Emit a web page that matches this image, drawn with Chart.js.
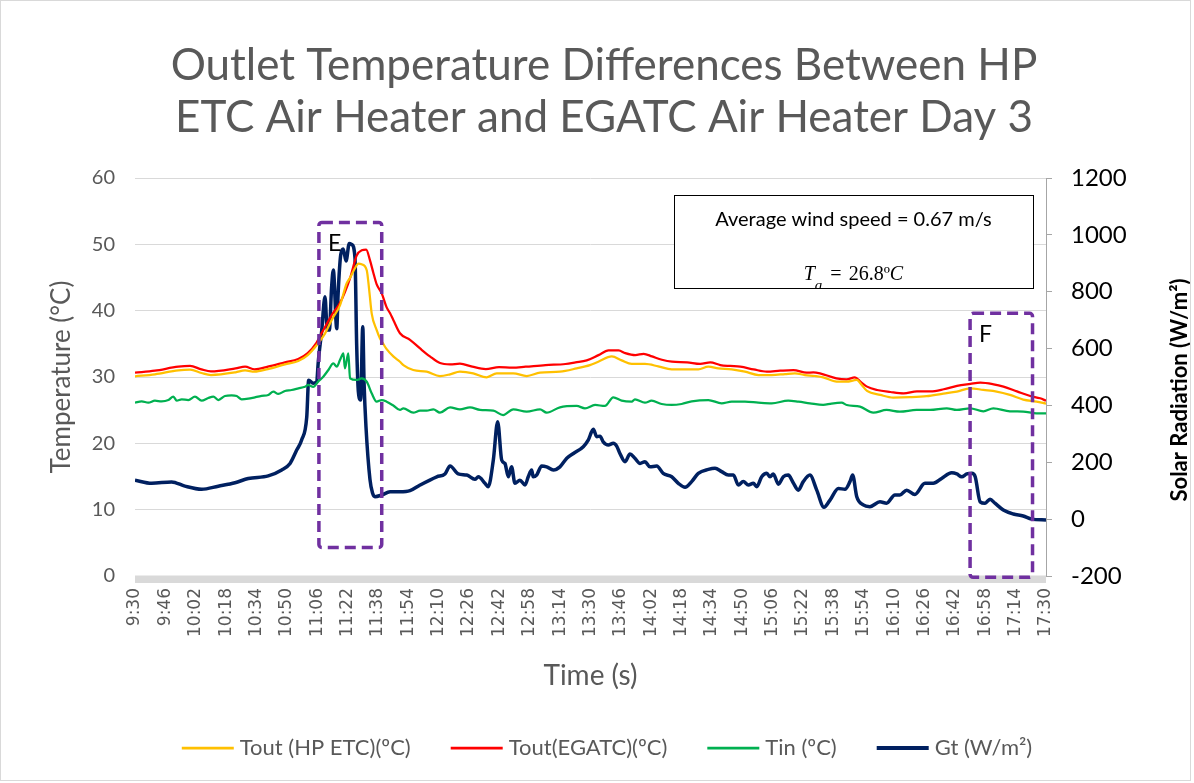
<!DOCTYPE html>
<html><head><meta charset="utf-8">
<script src="https://cdn.jsdelivr.net/npm/chart.js@4.4.1/dist/chart.umd.min.js"></script>
<style>html,body{margin:0;padding:0;background:#fff;}#wrap{width:1194px;height:783px;position:relative;}canvas{display:block;}</style>
</head><body><div id="wrap"><canvas id="c" width="1194" height="783"></canvas></div>
<script>
// ---- tick labels (x axis: minutes after 9:30) ----
const xTickMinutes = [0,16,32,48,64,80,96,112,128,144,160,176,192,208,224,240,256,272,288,304,320,336,352,368,384,400,416,432,448,464,480];
const xTickLabels = ['9:30','9:46','10:02','10:18','10:34','10:50','11:06','11:22','11:38','11:54','12:10','12:26','12:42','12:58','13:14','13:30','13:46','14:02','14:18','14:34','14:50','15:06','15:22','15:38','15:54','16:10','16:26','16:42','16:58','17:14','17:30'];
const seriesNames = ['Tout (HP ETC)(ºC)','Tout(EGATC)(ºC)','Tin (ºC)','Gt (W/m²)'];

// ---- Tout (HP ETC) ----
const tYellow = [0,10.5,22.8,29,35,40,53,58,63,70,79,86,91,96,100,104,108,111.5,113.2,115.9,117.7,119.4,122.1,123.4,124.7,127.3,129.1,130.8,132.6,136.1,139.6,141.4,146.6,153.7,160.7,166,171.2,178.2,185.3,190.6,199.3,206.4,213.4,223.9,232.7,239.7,244.1,251.2,256.4,261.7,268.7,275.7,282.8,289.8,296.8,302.1,307.4,314.4,321.4,328.5,335.5,342.5,347.7,353,358.3,362.6,369.7,375,380.3,382.9,385.7,392.7,399.5,408.3,417.1,425.9,433,440,447,454,461,468,475,480];
const yellow = [30.1,30.4,31.0,31.1,30.6,30.3,30.7,31.0,30.8,31.2,31.9,32.4,33.3,34.9,36.5,38.8,40.8,44.1,44.9,46.4,47.1,47.0,46.1,43.1,39.6,37.1,35.8,35.0,34.2,33.1,32.3,31.8,31.05,30.8,30.15,30.4,30.8,30.55,29.95,30.55,30.55,30.15,30.65,30.8,31.3,31.8,32.3,33.1,32.5,31.96,31.96,31.6,31.15,31.15,31.15,31.55,31.3,31.15,30.8,30.3,30.3,30.45,30.55,30.3,30.15,29.95,29.3,29.3,29.55,28.8,27.9,27.3,26.9,26.95,27.1,27.5,27.8,28.3,28.05,27.8,27.3,26.6,26.3,26.0];

// ---- Tout (EGATC) ----
const tRed = [0,10.5,22.8,29,35,40,53,58,63,70,79,86,91,95.7,99.1,104,107.9,113.2,116.8,119.5,121.8,123.9,125.5,127.3,130,132.6,134.4,136.1,139.6,144.9,150.2,155.4,160.7,166,171.2,177.7,184.8,191.8,198.8,205.8,216.3,226.8,232.1,238,244.2,249.5,254.8,258.3,263.6,268,272.4,277.6,282.9,290.9,297.8,303.1,308.4,313.6,318.9,325.9,332.9,339.9,346.9,353.9,357.4,360.9,369.6,374.9,379.3,382.2,385.7,391,398,405,412,419.1,426.1,433.1,440.1,445.4,452.4,457.6,464.7,471.7,476.9,480];
const red = [30.65,30.95,31.55,31.66,31.15,30.85,31.3,31.55,31.15,31.55,32.2,32.7,33.6,35.2,37.0,39.5,41.1,44.8,48.3,49.1,49.2,47.5,45.8,44.0,42.6,40.5,39.6,38.6,36.6,35.6,34.3,33.1,32.1,31.9,32.0,31.55,31.2,31.5,31.4,31.55,31.8,31.96,32.2,32.5,33.3,34.0,34.0,33.6,33.3,33.5,33.1,32.6,32.3,32.2,31.96,32.2,31.8,31.66,31.55,31.15,30.8,30.95,31.05,30.65,30.7,30.55,29.8,29.65,29.95,29.3,28.55,28.04,27.74,27.54,27.84,27.84,28.15,28.65,28.95,29.15,28.9,28.55,27.84,27.14,26.79,26.43];

// ---- Tin ----
const tGreen = [0,3.5,7,10.5,14,17.6,20.2,22,24.6,28.1,31.6,35.1,38.6,41.3,43.9,47.4,50.9,53.6,56.2,59.7,63.2,66.7,70.2,72.9,75.5,79,82.5,86.1,89.6,91.3,93.9,96.5,99.2,101.9,104.5,106.3,108,109.8,110.6,112.4,113.3,116.8,119.4,122.1,124.7,127.3,130,132.6,136.1,139.6,141.4,146.6,150.2,153.7,157.2,160.7,166,171.2,176.5,181.8,188.8,194,199.3,206.4,213.4,216.9,223.9,232.7,237.1,242.4,247.6,252,256.4,261.7,263.4,268.7,272.2,277.5,282.8,288,293.3,302.1,309.1,314.4,321.4,328.4,335.5,344.2,349.5,355.6,362.6,367,372.3,375,382,389,396,403,411.8,418.9,427.7,433,440,447,452.2,461,468,475,480];
const green = [26.13,26.33,26.13,26.43,26.33,26.53,27.04,26.43,26.63,26.53,27.04,26.43,26.84,27.04,26.53,27.14,27.24,27.14,26.63,26.73,26.94,27.14,27.29,27.79,27.44,27.89,28.04,28.29,28.54,28.8,28.5,29.3,30.05,31.06,32.06,31.56,32.56,33.57,31.3,33.57,29.8,29.55,29.8,29.3,27.54,26.28,26.53,26.28,25.7,25.03,25.28,24.62,24.92,24.92,25.13,24.62,25.43,25.13,25.43,25.03,24.92,24.27,25.13,24.77,25.13,24.62,25.43,25.63,25.28,25.78,25.63,26.94,26.43,26.28,26.63,26.13,26.43,25.93,25.78,25.93,26.33,26.53,26.03,26.28,26.28,26.13,26.03,26.43,26.28,26.03,25.78,26.0,26.13,25.78,25.53,24.62,25.03,24.78,25.03,25.03,25.28,25.03,25.28,24.83,25.28,24.83,24.78,24.52,24.52];

// ---- Gt (solar radiation) ----
const tGt = [0,8.8,19.3,26.3,35.1,43.9,52.7,59.7,70.2,77.3,81.7,85.2,87.8,90.5,91.5,93.9,95.7,96.6,98.4,100.1,101.3,102.4,103.6,104.5,106.3,107,108.4,109.7,111.2,112.9,114.2,115.9,116.8,117.7,118.9,120,120.7,121.7,123.8,125.2,126.4,130,134.4,139.6,144.9,150.2,159,163.3,166,170.3,174.8,179.1,180.9,184.4,186.1,188.8,191.1,193.2,194.9,196.7,198.4,200.2,202.8,205.5,207.2,209,209.8,211.6,214.3,216.9,220.4,223.9,227.5,231,236.2,238.8,241.5,243.3,245,246.7,249.4,252,253.8,255.5,258.2,260.8,263.4,266.1,268.7,271.3,274.9,278.3,282.8,286.3,289.8,293.3,296.8,302.1,305.6,309.1,312.6,315.3,317.9,320.5,323.2,325.8,327.6,330.2,332.9,334.6,336.3,339,341.6,344.2,346.8,349.5,352.1,355.6,359.2,363,366.2,370.6,374.1,376.7,378.1,380.3,383.7,387.2,392.5,396,400.4,403,406.6,410.9,416.2,420.6,425,430.3,433,435.6,438.3,440.9,442.7,445.3,447.9,450.5,453.1,457.5,462.8,468,472.4,480];
const gt = [137,126,131,116,105,116,128,143,152,173,196,243,278,360,489,478,483,556,665,782,665,665,817,876,670,790,930,950,908,970,966,920,612,448,419,677,478,325,140,91,79,85,96,96,100,120,149,159,187,159,155,140,149,126,114,208,343,208,196,149,184,126,137,120,149,173,149,155,187,184,173,184,214,231,255,278,316,290,292,272,261,267,257,231,202,229,214,196,202,184,187,161,149,126,112,132,161,175,179,167,155,155,120,132,120,126,114,149,161,149,159,123,149,155,128,102,132,155,102,42,67,108,105,132,155,79,50,44,61,56,85,85,102,87,126,126,143,163,159,149,159,161,149,61,56,70,56,32,18,11,0,-3];

const FONT = 'Lato, "Open Sans", sans-serif';
const GREY = '#595959';
const toXY = (ts, vs) => ts.map((t, i) => ({x: t, y: vs[i]}));

const overlayPlugin = {
  id: 'overlay',
  afterDatasetsDraw(chart) {
    const ctx = chart.ctx, xs = chart.scales.x, ys = chart.scales.y;
    ctx.save();
    // dashed purple highlight boxes
    const boxes = [
      {label: 'E', x0: 96.9, x1: 130.0, y0: 53.3, y1: 4.3},
      {label: 'F', x0: 440.0, x1: 472.9, y0: 39.6, y1: -0.2}
    ];
    ctx.strokeStyle = '#7030A0';
    ctx.lineWidth = 3.5;
    ctx.setLineDash([11, 6]);
    boxes.forEach(b => {
      const l = xs.getPixelForValue(b.x0), r = xs.getPixelForValue(b.x1);
      const t = ys.getPixelForValue(b.y0), bt = ys.getPixelForValue(b.y1);
      ctx.beginPath();
      if (ctx.roundRect) ctx.roundRect(l, t, r - l, bt - t, 3); else ctx.rect(l, t, r - l, bt - t);
      ctx.stroke();
      ctx.fillStyle = '#000';
      ctx.font = '23px ' + FONT;
      ctx.textAlign = 'left';
      ctx.textBaseline = 'middle';
      ctx.fillText(b.label, l + 9, t + 21);
    });
    ctx.setLineDash([]);
    // information text box
    const bl = xs.getPixelForValue(284.0), br = xs.getPixelForValue(473.1);
    const bt = ys.getPixelForValue(57.44), bb = ys.getPixelForValue(43.37);
    ctx.fillStyle = '#fff';
    ctx.fillRect(bl, bt, br - bl, bb - bt);
    ctx.save();
    ctx.beginPath(); ctx.rect(bl, bt, br - bl, bb - bt); ctx.clip();
    const cx = (bl + br) / 2;
    ctx.fillStyle = '#000';
    ctx.textBaseline = 'alphabetic';
    ctx.textAlign = 'center';
    ctx.font = '20px ' + FONT;
    ctx.fillText('Average wind speed = 0.67 m/s', cx, bt + 31);
    // T_a = 26.8ºC
    const base = bb - 8.5;
    const SERIF = '"Liberation Serif", "DejaVu Serif", serif';
    const parts = [
      {t: 'T', f: 'italic 20px ' + SERIF, dy: 0, pad: 0},
      {t: 'a', f: 'italic 15px ' + SERIF, dy: 10, pad: 8},
      {t: '=', f: '20px ' + SERIF, dy: 0, pad: 7},
      {t: '26.8º', f: '20px ' + SERIF, dy: 0, pad: 0},
      {t: 'C', f: 'italic 20px ' + SERIF, dy: 0, pad: 0}
    ];
    let w = 0;
    parts.forEach(p => { ctx.font = p.f; p.w = ctx.measureText(p.t).width + p.pad; w += p.w; });
    let px = cx - w / 2;
    ctx.textAlign = 'left';
    parts.forEach(p => { ctx.font = p.f; ctx.fillText(p.t, px, base + p.dy); px += p.w; });
    ctx.restore();
    ctx.strokeStyle = '#000';
    ctx.lineWidth = 1;
    ctx.strokeRect(Math.round(bl) + 0.5, Math.round(bt) + 0.5, Math.round(br - bl), Math.round(bb - bt));
    ctx.restore();
  },
  beforeDatasetsDraw(chart) {
    const ctx = chart.ctx, a = chart.chartArea;
    ctx.save();
    ctx.fillStyle = '#D9D9D9';
    ctx.fillRect(a.left, a.bottom - 0.5, a.right - a.left, 7.5);
    ctx.restore();
  },
  afterDraw(chart) {
    const ctx = chart.ctx;
    ctx.save();
    // title
    ctx.fillStyle = GREY;
    ctx.textAlign = 'center';
    ctx.textBaseline = 'middle';
    ctx.font = '44px ' + FONT;
    ctx.fillText('Outlet Temperature Differences Between HP', 604, 66);
    ctx.fillText('ETC Air Heater and EGATC Air Heater Day 3', 604, 118);
    // secondary axis title (reads bottom to top)
    ctx.save();
    ctx.translate(1180, 390);
    ctx.rotate(-Math.PI / 2);
    ctx.textAlign = 'center';
    ctx.fillStyle = '#000';
    ctx.font = 'bold 22px ' + FONT;
    ctx.fillText('Solar Radiation (W/m²)', 0, 0);
    ctx.restore();
    // legend
    ctx.font = '22px ' + FONT;
    const items = chart.data.datasets.map(d => ({label: d.label, color: d.borderColor, lw: d.borderWidth}));
    const lineLen = 52, gap = 6, itemGap = 40;
    let total = 0;
    items.forEach((it, i) => { it.w = ctx.measureText(it.label).width; total += lineLen + gap + it.w + (i < items.length - 1 ? itemGap : 0); });
    let x = 607 - total / 2;
    const y = 748;
    ctx.textAlign = 'left';
    items.forEach(it => {
      ctx.strokeStyle = it.color;
      ctx.lineWidth = it.lw + 0.5;
      ctx.beginPath(); ctx.moveTo(x, y); ctx.lineTo(x + lineLen, y); ctx.stroke();
      ctx.fillStyle = GREY;
      ctx.fillText(it.label, x + lineLen + gap, y);
      x += lineLen + gap + it.w + itemGap;
    });
    // outer border
    ctx.strokeStyle = '#D9D9D9';
    ctx.lineWidth = 1;
    ctx.strokeRect(0.5, 0.5, 1190, 780);
    ctx.restore();
  }
};

const ds = (label, ts, vs, color, width, axis) => ({
  label, data: toXY(ts, vs), borderColor: color, backgroundColor: color,
  borderWidth: width, pointRadius: 0, cubicInterpolationMode: 'monotone', yAxisID: axis
});

new Chart(document.getElementById('c'), {
  type: 'line',
  data: {
    datasets: [
      ds(seriesNames[0], tYellow, yellow, '#FFC000', 2.25, 'y'),
      ds(seriesNames[1], tRed, red, '#FF0000', 2.25, 'y'),
      ds(seriesNames[2], tGreen, green, '#00B050', 2.25, 'y'),
      ds(seriesNames[3], tGt, gt, '#002060', 3.5, 'y2')
    ]
  },
  options: {
    responsive: false,
    animation: false,
    layout: {padding: {top: 178, left: 0, right: 0, bottom: 0}},
    plugins: {legend: {display: false}, title: {display: false}, tooltip: {enabled: false}},
    scales: {
      x: {
        type: 'linear', position: 'bottom', min: 0, max: 480,
        afterBuildTicks: s => { s.ticks = xTickMinutes.map(v => ({value: v})); },
        afterFit: s => { s.height = 207; },
        ticks: {autoSkip: false, minRotation: 90, maxRotation: 90, padding: 12,
          callback: (v, i) => xTickLabels[i], color: GREY, font: {family: '"DejaVu Sans", sans-serif', size: 17}},
        grid: {display: false, drawTicks: false},
        border: {display: false},
        title: {display: true, text: 'Time (s)', color: GREY, font: {family: FONT, size: 28}, padding: {top: 0, bottom: 90}}
      },
      y: {
        type: 'linear', position: 'left', min: 0, max: 60,
        afterFit: s => { s.width = 135; },
        ticks: {stepSize: 10, color: GREY, font: {family: FONT, size: 20}, padding: 20},
        grid: {color: '#D9D9D9', lineWidth: 1, drawTicks: false},
        border: {display: false},
        title: {display: true, text: 'Temperature (°C)', color: GREY, font: {family: FONT, size: 26}, padding: {top: 46, bottom: 0}}
      },
      y2: {
        type: 'linear', position: 'right', min: -200, max: 1200,
        afterFit: s => { s.width = 148; },
        ticks: {stepSize: 200, color: '#000', font: {family: FONT, size: 24}, padding: 19, callback: v => String(v)},
        grid: {drawOnChartArea: false, drawTicks: true, tickLength: 6, color: '#A6A6A6'},
        border: {display: true, color: '#A6A6A6', width: 1},
        title: {display: false}
      }
    }
  },
  plugins: [overlayPlugin]
});
</script>
</body></html>
